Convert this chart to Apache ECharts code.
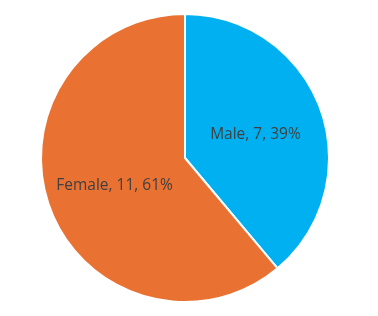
<!DOCTYPE html>
<html><head><meta charset="utf-8">
<script src="https://cdn.jsdelivr.net/npm/echarts@6/dist/echarts.min.js"></script>
<style>html,body{margin:0;padding:0;background:#fff}#c{width:378px;height:316px}</style>
</head><body><div id="c"></div>
<script>
const categories = ["Male", "Female"];
const values = [7, 11];
const colors = ["#00B0F0", "#E97132"];
const chart = echarts.init(document.getElementById('c'), null, {renderer: 'canvas'});
const total = values.reduce((a, b) => a + b, 0);
chart.setOption({
  animation: false,
  series: [{
    type: 'pie',
    center: [185, 158],
    radius: [0, 144],
    startAngle: 90,
    clockwise: true,
    itemStyle: {borderColor: '#fff', borderWidth: 2},
    label: {
      position: 'inner',
      fontFamily: 'Open Sans',
      fontSize: 15.5,
      color: '#404040',
      offset: [0, 2],
      formatter: p => p.name + ', ' + p.value + ', ' + Math.round(p.value / total * 100) + '%'
    },
    labelLine: {show: false},
    data: categories.map((c, i) => ({name: c, value: values[i], itemStyle: {color: colors[i]}}))
  }]
});
</script></body></html>
